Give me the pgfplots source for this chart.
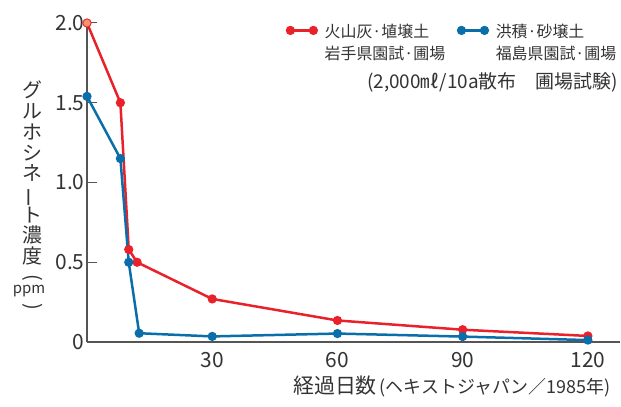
\documentclass[border=0pt]{standalone}
\usepackage{fontspec}
\setmainfont{Noto Sans CJK JP}
\usepackage{pgfplots}
\pgfplotsset{compat=1.18}
\definecolor{cred}{HTML}{E8212B}
\definecolor{cblue}{HTML}{0A6EAA}
\definecolor{corange}{HTML}{F4956A}
\definecolor{caxis}{HTML}{555555}
\definecolor{ctext}{HTML}{333333}
\newcommand{\vc}[1]{\hbox to 26pt{\hss#1\hss}}
\newcommand{\vlabel}{\vbox{\fontsize{20}{20.8}\selectfont\baselineskip=20.8pt\lineskiplimit=-50pt\lineskip=0pt
\vc{グ}\vc{ル}\vc{ホ}\vc{シ}\vc{ネ}\vc{\rotatebox[origin=c]{90}{ー}}\vc{ト}\vc{濃}\vc{度}}}
\begin{document}
\begin{tikzpicture}[x=1bp,y=1bp]
\useasboundingbox (0,0) rectangle (621,406);
\begin{axis}[
  at={(87bp,64bp)}, anchor=south west,
  scale only axis, width=533bp, height=319bp,
  xmin=0, xmax=127.7, ymin=0, ymax=2,
  axis x line=bottom, axis y line=left,
  axis line style={-, caxis, line width=1.2bp},
  xtick={30,60,90,120}, xticklabels={30,60,90,120},
  ytick={0,0.5,1,1.5,2}, yticklabels={0,0.5,1.0,1.5,2.0},
  x tick style={draw=none}, y tick style={caxis, line width=1bp},
  tick align=inside, major tick length=10bp,
  tick label style={font=\fontsize{21}{21}\selectfont, text=ctext},
  xticklabel style={yshift=-7bp},
  yticklabel style={xshift=1bp},
  clip=false,
  legend style={draw=none, fill=none, at={(0.375,1.01)}, anchor=north west,
    inner sep=0pt, font=\fontsize{16}{22}\selectfont, text=ctext,
    /tikz/every even column/.append style={column sep=11bp},
    /tikz/every odd column/.append style={column sep=6bp}},
  legend columns=2,
  legend cell align=left,
  legend image code/.code={\draw[#1] plot coordinates {(0bp,0bp) (23bp,0bp)};},
]
\addplot[cred, line width=2.5bp, mark=*, mark size=3.3bp] coordinates {
(0,2.0) (8,1.5) (10,0.58) (12,0.5) (30,0.27) (60,0.135) (90,0.077) (120,0.038)};
\addlegendentry{\begin{tabular}[t]{@{}l@{}}火山灰·埴壌土\\岩手県園試·圃場\end{tabular}}
\addplot[corange, only marks, mark=*, mark size=3.3bp, forget plot] coordinates {(0,2.0)};
\addplot[cblue, line width=2.5bp, mark=*, mark size=3.3bp] coordinates {
(0,1.54) (8,1.15) (10,0.5) (12.5,0.055) (30,0.035) (60,0.053) (90,0.034) (120,0.012)};
\addlegendentry{\begin{tabular}[t]{@{}l@{}}洪積·砂壌土\\福島県園試·圃場\end{tabular}}
\end{axis}
\node[anchor=east, text=ctext, font=\fontsize{19}{19}\selectfont, inner sep=0pt] at (618,324) {(2,000㎖/10a散布　圃場試験)};
\node[anchor=west, text=ctext, inner sep=0pt] at (293,20) {\fontsize{21}{21}\selectfont 経過日数\fontsize{18}{18}\selectfont\,(ヘキストジャパン／1985年)};
\node[text=ctext, inner sep=0pt, anchor=north] at (32,325) {\vlabel};
\node[text=ctext, inner sep=0pt, rotate=-90, font=\fontsize{20}{20}\selectfont] at (33,128) {(};
\node[text=ctext, inner sep=0pt, font=\fontsize{15}{15}\selectfont] at (29,115) {ppm};
\node[text=ctext, inner sep=0pt, rotate=-90, font=\fontsize{20}{20}\selectfont] at (33,99) {)};
\end{tikzpicture}
\end{document}
